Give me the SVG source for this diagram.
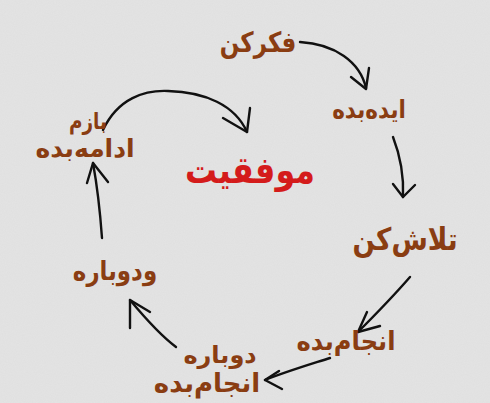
<svg xmlns="http://www.w3.org/2000/svg" width="490" height="403" viewBox="0 0 490 403">
<defs>
<filter id="noise" x="0" y="0" width="100%" height="100%">
<feTurbulence type="fractalNoise" baseFrequency="0.9" numOctaves="2" seed="3" result="n"/>
<feColorMatrix in="n" type="matrix" values="0 0 0 0 0.5  0 0 0 0 0.5  0 0 0 0 0.5  0 0 0 0.12 0"/>
</filter>
<style>
.t{font-family:"DejaVu Sans",sans-serif;font-weight:bold;fill:#8a3d12;text-anchor:middle;direction:rtl}
.c{font-family:"DejaVu Sans",sans-serif;font-weight:bold;fill:#d41b1b;text-anchor:middle;direction:rtl}
.a{fill:none;stroke:#111;stroke-width:2.4;stroke-linecap:round;stroke-linejoin:round}
</style>
</defs>
<rect width="490" height="403" fill="#e4e4e4"/>
<rect width="490" height="403" filter="url(#noise)"/>
<g id="connectors">
<path class="a" d="M300 42 C335 44 360 62 366 88"/>
<path class="a" d="M351 77 L366 89 L369 68"/>
<path class="a" d="M393 137 C400 155 404 175 403 197"/>
<path class="a" d="M393 184 L403 197 L415 185"/>
<path class="a" d="M410 277 C390 300 375 315 358 332"/>
<path class="a" d="M367 312 L358 332 L380 326"/>
<path class="a" d="M330 358 C305 366 285 372 265 380"/>
<path class="a" d="M279 371 L265 380 L282 389"/>
<path class="a" d="M176 347 C160 335 145 318 130 300"/>
<path class="a" d="M130 328 L130 300 L150 312"/>
<path class="a" d="M102 238 C100 210 97 185 93 163"/>
<path class="a" d="M87 183 L93 163 L108 182"/>
<path class="a" d="M103 130 C118 98 145 90 168 91 C205 92 235 105 247 132"/>
<path class="a" d="M223 118 L247 132 L250 108"/>
</g>
<g id="n1"><text class="t" transform="translate(258 52) scale(0.82 1)" font-size="28">فکرکن</text></g>
<g id="n2"><text class="t" transform="translate(369 118) scale(0.86 1)" font-size="25">ایده‌بده</text></g>
<g id="n3"><text class="t" transform="translate(405 250) scale(0.85 1)" font-size="31">تلاش‌کن</text></g>
<g id="n4"><text class="t" transform="translate(346 350) scale(0.93 1)" font-size="26">انجام‌بده</text></g>
<g id="n5"><text class="t" x="220" y="363" font-size="24">دوباره</text><text class="t" x="207" y="392" font-size="26">انجام‌بده</text></g>
<g id="n6"><text class="t" transform="translate(115 280) scale(0.85 1)" font-size="27">ودوباره</text></g>
<g id="n7"><text class="t" transform="translate(88 129) scale(0.8 1)" font-size="23">بازم</text><text class="t" x="85" y="157" font-size="25">ادامه‌بده</text></g>
<g id="center"><text class="c" transform="translate(250 183) scale(0.86 1)" font-size="37">موفقیت</text></g>
</svg>
